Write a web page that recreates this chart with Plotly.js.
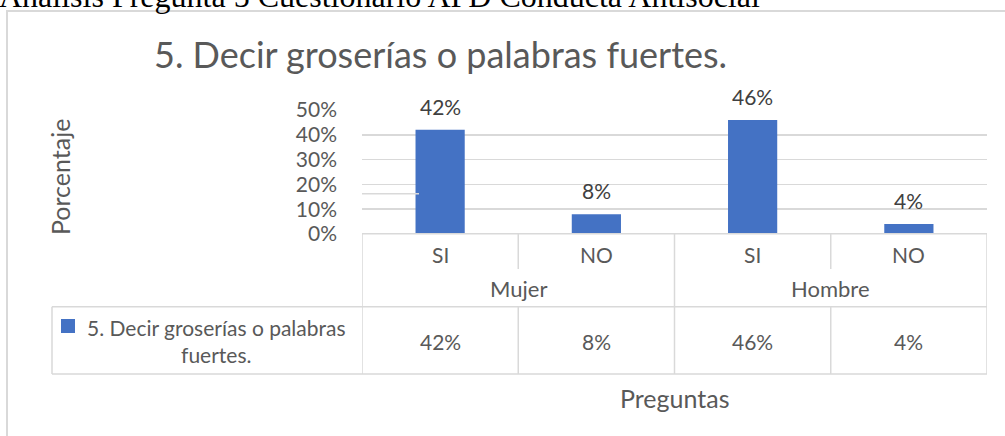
<!DOCTYPE html>
<html>
<head>
<meta charset="utf-8">
<script src="https://cdn.plot.ly/plotly-3.0.1.min.js"></script>
<style>
html,body{margin:0;padding:0;background:#fff;}
#chart{width:1005px;height:436px;}
</style>
</head>
<body>
<div id="chart"></div>
<script>
// ---- data ----
const headerText = "Análisis Pregunta 5 Cuestionario APD Conducta Antisocial";
const chartTitle = "5. Decir groserías o palabras fuertes.";
const seriesName = "5. Decir groserías o palabras fuertes.";
const seriesLabelLines = ["5. Decir groserías o palabras", "fuertes."];
const genders = ["Mujer", "Hombre"];
const answers = ["SI", "NO", "SI", "NO"];
const values = [0.42, 0.08, 0.46, 0.04];
const yTickVals = [0, 0.1, 0.2, 0.3, 0.4, 0.5];
const yAxisTitle = "Porcentaje";
const xAxisTitle = "Preguntas";

// ---- styling ----
const BAR = "#4472C4";
const GRID = "#D9D9D9";
const TXT = "#595959";
const LBL = "#404040";
const FONT = "Lato, 'Open Sans', sans-serif";
const FS = 21;
const FS_AX = 25;

// pixel helpers (plot area: x 362..987, y 110..234)
const L = 362, R = 18, T = 110, B = 202, W = 1005, H = 436;
const PW = W - L - R, PH = H - T - B;
const px = p => (p - L) / PW;
const py = p => 1 - (p - T) / PH;

const idx = answers.map((_, i) => i);
const pct = v => Math.round(v * 100) + "%";

const ann = [];
// header (cut off at top)
ann.push({text: headerText, xref: "paper", yref: "paper", x: px(-3), y: py(16),
  xanchor: "left", yanchor: "bottom", showarrow: false,
  font: {family: "'Liberation Serif', 'Times New Roman', serif", size: 32, color: "#000"}});
// title
ann.push({text: chartTitle, xref: "paper", yref: "paper", x: px(440), y: py(54),
  xanchor: "center", yanchor: "middle", showarrow: false,
  font: {family: FONT, size: 36, color: TXT}});
// y axis title
ann.push({text: yAxisTitle, xref: "paper", yref: "paper", x: px(60), y: py(177),
  xanchor: "center", yanchor: "middle", textangle: -90, showarrow: false,
  font: {family: FONT, size: FS_AX, color: TXT}});
// x axis title
ann.push({text: xAxisTitle, xref: "paper", yref: "paper", x: 0.5, y: py(398),
  xanchor: "center", yanchor: "middle", showarrow: false,
  font: {family: FONT, size: FS_AX, color: TXT}});
// data labels
values.forEach((v, i) => ann.push({text: pct(v), xref: "x", yref: "y", x: i, y: v,
  xanchor: "center", yanchor: "bottom", yshift: 9, showarrow: false,
  font: {family: FONT, size: FS, color: LBL}}));
// table: answers
answers.forEach((a, i) => ann.push({text: a, xref: "x", yref: "paper", x: i, y: py(254),
  xanchor: "center", yanchor: "middle", showarrow: false,
  font: {family: FONT, size: FS, color: TXT}}));
// table: genders
genders.forEach((g, gi) => ann.push({text: g, xref: "x", yref: "paper", x: gi * 2 + 0.5, y: py(288),
  xanchor: "center", yanchor: "middle", showarrow: false,
  font: {family: FONT, size: 22, color: TXT}}));
// table: values
values.forEach((v, i) => ann.push({text: pct(v), xref: "x", yref: "paper", x: i, y: py(341),
  xanchor: "center", yanchor: "middle", showarrow: false,
  font: {family: FONT, size: FS, color: TXT}}));
// table: series label
ann.push({text: seriesLabelLines.join("<br>"), xref: "paper", yref: "paper", x: px(216), y: py(341),
  xanchor: "center", yanchor: "middle", align: "center", showarrow: false,
  font: {family: FONT, size: FS, color: TXT}});

const ln = (xref, x0, x1, y0, y1, w) => ({type: "line", xref: xref, yref: "paper",
  x0: x0, x1: x1, y0: y0, y1: y1, line: {color: GRID, width: w || 1.5}, layer: "above"});

const shapes = [];
// chart frame
shapes.push({type: "rect", xref: "paper", yref: "paper", x0: px(7), x1: px(1015), y0: py(445), y1: py(11),
  line: {color: GRID, width: 2}, fillcolor: "rgba(0,0,0,0)", layer: "below"});
// stray gridline fragment
shapes.push(ln("paper", px(362), px(419), py(193.7), py(193.7), 1.5));
// table horizontal lines
shapes.push(ln("paper", 0, 1, py(233.8), py(233.8)));
shapes.push(ln("paper", px(52), 1, py(306.7), py(306.7)));
shapes.push(ln("paper", px(52), 1, py(374), py(374)));
// table verticals
shapes.push(ln("paper", px(52), px(52), py(306.7), py(374)));
shapes.push(ln("x", -0.5, -0.5, py(233.8), py(374)));
shapes.push(ln("x", 3.5, 3.5, py(233.8), py(374)));
shapes.push(ln("x", 1.5, 1.5, py(233.8), py(374)));
[0.5, 2.5].forEach(b => {
  shapes.push(ln("x", b, b, py(233.8), py(269)));
  shapes.push(ln("x", b, b, py(306.7), py(374)));
});
// legend key square
shapes.push({type: "rect", xref: "paper", yref: "paper", x0: px(61), x1: px(75), y0: py(333), y1: py(319),
  line: {width: 0}, fillcolor: BAR, layer: "above"});

const data = [{
  type: "bar", name: seriesName, x: idx, y: values, width: 0.315,
  marker: {color: BAR}, hoverinfo: "none", showlegend: false
}];

const layout = {
  width: W, height: H,
  margin: {l: L, r: R, t: T, b: B, pad: 0},
  paper_bgcolor: "#fff", plot_bgcolor: "#fff",
  showlegend: false,
  xaxis: {range: [-0.5, 3.5], showticklabels: false, showgrid: false, zeroline: false,
    showline: false, ticks: "", fixedrange: true},
  yaxis: {range: [0, 0.5], tickvals: yTickVals, tickformat: ".0%", showgrid: true,
    gridcolor: GRID, gridwidth: 1.5, zeroline: false, showline: false, ticks: "",
    ticklabelstandoff: 24, tickfont: {family: FONT, size: FS, color: TXT}, fixedrange: true},
  annotations: ann,
  shapes: shapes,
  font: {family: FONT, color: TXT}
};

Plotly.newPlot("chart", data, layout, {displayModeBar: false, staticPlot: true});
</script>
</body>
</html>
